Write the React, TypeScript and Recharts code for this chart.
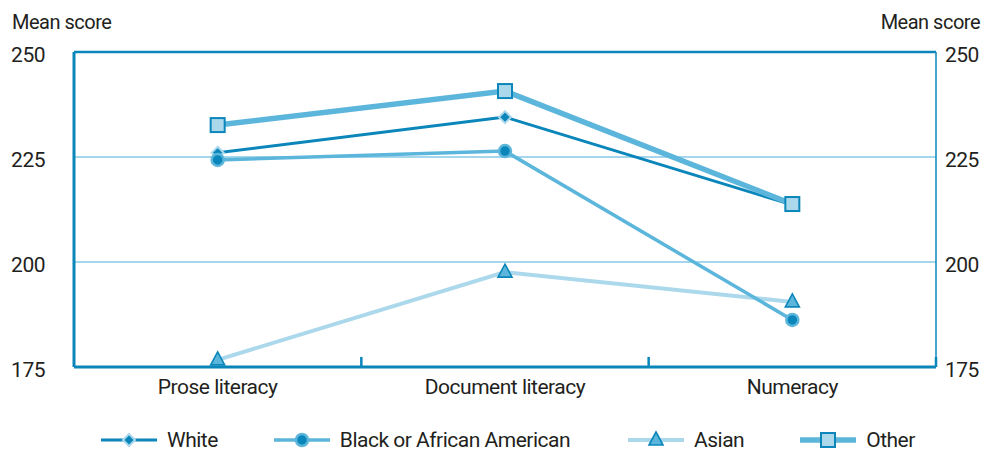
import { Legend, Line, LineChart, ReferenceLine, XAxis, YAxis } from 'recharts';

const categories = ['Prose literacy', 'Document literacy', 'Numeracy'];
const whiteScores = [226.0, 234.5, 213.6];
const blackScores = [224.3, 226.4, 186.2];
const asianScores = [176.7, 197.6, 190.5];
const otherScores = [232.6, 240.7, 213.8];
const yTicks = [175, 200, 225, 250];
// category boundaries on the x axis (band edges) that carry a small inward tick
const separators = [1, 2, 3];

const DARK = '#0a86ba';
const MID = '#5cb6db';
const LIGHT = '#acd8ec';
const GRID = '#86c9e6';
const TEXT = '#231f20';
const FONT = 'Roboto, "Liberation Sans", sans-serif';
const SPACING = '-0.5px';

// each category sits in the middle of its band: index + 0.5
const data = categories.map((name, i) => ({
  name,
  pos: i + 0.5,
  white: whiteScores[i],
  black: blackScores[i],
  asian: asianScores[i],
  other: otherScores[i],
}));

type Shape = 'diamond' | 'circle' | 'triangle' | 'square';

function Marker({ shape, cx, cy }: { shape: Shape; cx: number; cy: number }) {
  if (shape === 'diamond') {
    return (
      <path
        d={`M${cx},${cy - 6} L${cx + 6},${cy} L${cx},${cy + 6} L${cx - 6},${cy} Z`}
        fill={DARK}
        stroke={LIGHT}
        strokeWidth={2}
      />
    );
  }
  if (shape === 'circle') {
    return <circle cx={cx} cy={cy} r={6} fill={DARK} stroke={MID} strokeWidth={2.5} />;
  }
  if (shape === 'triangle') {
    return (
      <path
        d={`M${cx},${cy - 8} L${cx + 7},${cy + 5} L${cx - 7},${cy + 5} Z`}
        fill={MID}
        stroke={DARK}
        strokeWidth={1.6}
      />
    );
  }
  return <rect x={cx - 7} y={cy - 7} width={14} height={14} fill={LIGHT} stroke={DARK} strokeWidth={2} />;
}

const SERIES = [
  { key: 'asian', label: 'Asian', color: LIGHT, width: 4, shape: 'triangle' as Shape },
  { key: 'white', label: 'White', color: DARK, width: 3, shape: 'diamond' as Shape },
  { key: 'black', label: 'Black or African American', color: MID, width: 3.5, shape: 'circle' as Shape },
  { key: 'other', label: 'Other', color: MID, width: 5.5, shape: 'square' as Shape },
];
const LEGEND_ORDER = ['white', 'black', 'asian', 'other'];

function renderDot(shape: Shape) {
  return (props: any) => <Marker key={`${shape}-${props.index}`} shape={shape} cx={props.cx} cy={props.cy} />;
}

function LegendContent() {
  return (
    <div
      style={{
        height: 26,
        display: 'flex',
        alignItems: 'center',
        fontFamily: FONT,
        fontSize: 21,
        letterSpacing: SPACING,
        color: TEXT,
        paddingLeft: 101,
        whiteSpace: 'nowrap',
      }}
    >
      {LEGEND_ORDER.map((key, i) => {
        const s = SERIES.find((item) => item.key === key)!;
        return (
          <div key={key} style={{ display: 'flex', alignItems: 'center', marginRight: i === 1 ? 58 : 56 }}>
            <svg width={56} height={22} style={{ marginRight: 10 }}>
              <line x1={0} y1={11} x2={56} y2={11} stroke={s.color} strokeWidth={s.width} />
              <Marker shape={s.shape} cx={28} cy={11} />
            </svg>
            <span>{s.label}</span>
          </div>
        );
      })}
    </div>
  );
}

function AxisTitle(props: { x: number; anchor: 'start' | 'end' }) {
  return (
    <text
      x={props.x}
      y={29}
      textAnchor={props.anchor}
      fontFamily={FONT}
      fontSize={20}
      letterSpacing={SPACING}
      fill={TEXT}
    >
      Mean score
    </text>
  );
}

export default function App() {
  const tickStyle = { fontFamily: FONT, fontSize: 21, fill: TEXT, letterSpacing: SPACING };
  return (
    <div style={{ position: 'absolute', left: 0, top: 0, width: 996, height: 453, background: '#fff' }}>
      <LineChart width={996} height={453} data={data} margin={{ top: 52, right: 0, bottom: 20, left: 0 }}>
        <XAxis
          dataKey="pos"
          type="number"
          domain={[0, categories.length]}
          ticks={data.map((d) => d.pos)}
          tickFormatter={(v: number) => categories[Math.floor(v)]}
          allowDataOverflow
          height={40}
          axisLine={{ stroke: DARK, strokeWidth: 3 }}
          tickLine={false}
          tickSize={0}
          tickMargin={12}
          tick={tickStyle}
          interval={0}
        />
        <YAxis
          yAxisId="left"
          width={74}
          domain={[175, 250]}
          ticks={yTicks}
          allowDataOverflow
          axisLine={{ stroke: DARK, strokeWidth: 3 }}
          tickLine={false}
          tickSize={0}
          tickMargin={29}
          tick={{ ...tickStyle, dy: 3 }}
          label={{ content: () => <AxisTitle x={12} anchor="start" /> }}
        />
        <YAxis
          yAxisId="right"
          orientation="right"
          width={60}
          domain={[175, 250]}
          ticks={yTicks}
          allowDataOverflow
          axisLine={{ stroke: DARK, strokeWidth: 1.5 }}
          tickLine={false}
          tickSize={0}
          tickMargin={9}
          tick={{ ...tickStyle, dy: 3 }}
          label={{ content: () => <AxisTitle x={980} anchor="end" /> }}
        />
        <ReferenceLine yAxisId="left" y={225} stroke={GRID} strokeWidth={1.5} />
        <ReferenceLine yAxisId="left" y={200} stroke={GRID} strokeWidth={1.5} />
        <ReferenceLine yAxisId="left" y={250} stroke={DARK} strokeWidth={2.5} />
        {separators.map((x) => (
          <ReferenceLine
            key={`sep-${x}`}
            yAxisId="left"
            segment={[
              { x, y: 175 },
              { x, y: 177.4 },
            ]}
            stroke={DARK}
            strokeWidth={2.5}
            ifOverflow="visible"
          />
        ))}
        {SERIES.map((s) => (
          <Line
            key={s.key}
            yAxisId="left"
            dataKey={s.key}
            name={s.label}
            type="linear"
            stroke={s.color}
            strokeWidth={s.width}
            dot={renderDot(s.shape)}
            activeDot={false}
            isAnimationActive={false}
          />
        ))}
        <Legend verticalAlign="bottom" content={() => <LegendContent />} wrapperStyle={{ left: 0, bottom: 0, width: 996 }} />
      </LineChart>
    </div>
  );
}
